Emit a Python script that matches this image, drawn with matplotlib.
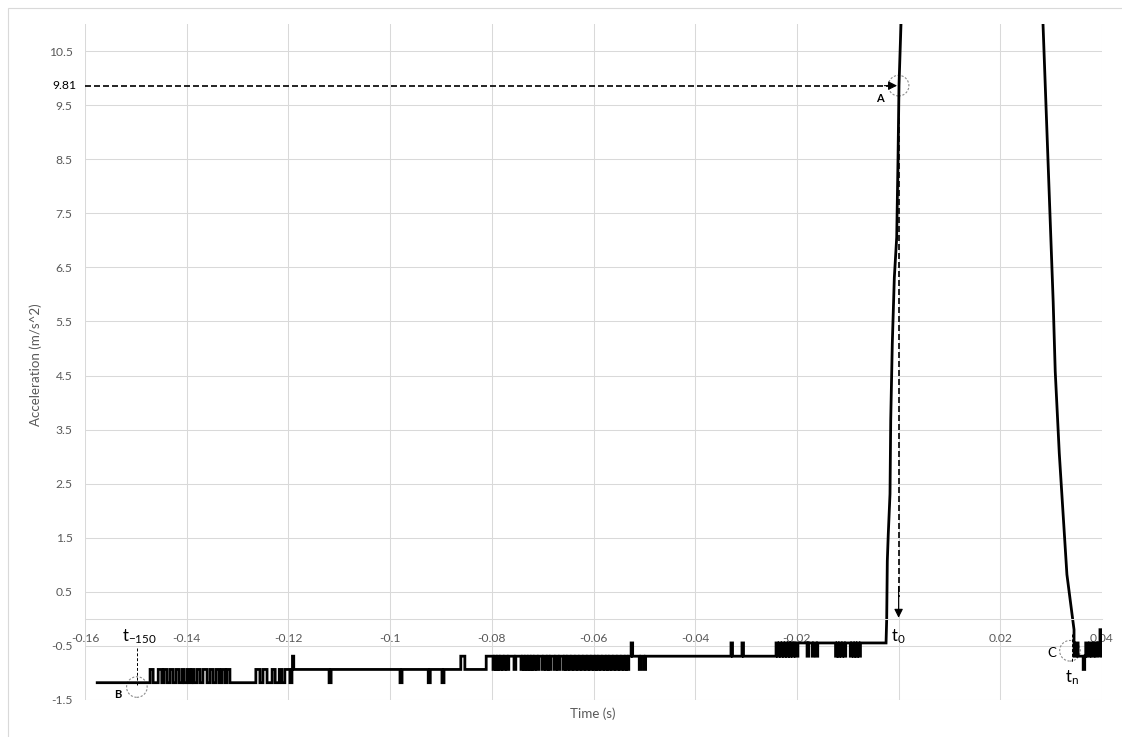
import numpy as np
import matplotlib.pyplot as plt
from matplotlib.patches import Circle, Rectangle
from matplotlib.transforms import ScaledTranslation

plt.rcParams['font.family'] = ['Lato', 'DejaVu Sans']
plt.rcParams['mathtext.fontset'] = 'custom'
plt.rcParams['mathtext.rm'] = 'Lato'
plt.rcParams['mathtext.it'] = 'Lato'
plt.rcParams['mathtext.default'] = 'regular'
plt.rcParams['axes.unicode_minus'] = False

# ---- data (time in ms, acceleration in m/s^2) ----
# quantised sensor levels
lv0, lv1, lv2, lv3, lv4 = -1.18, -0.935, -0.69, -0.445, -0.2

# segment 1: base lv0, pulses up to lv1
s1_start, s1_end = -157.6, -119.3
s1_on = [-147.2, -145.6, -144.5, -143.3, -142.1, -140.9, -139.9, -139.0, -138.0,
         -136.8, -135.4, -134.2, -133.1, -132.1, -126.4, -125.0, -123.2, -121.8, -120.7]
s1_off = [-146.6, -144.9, -143.9, -142.7, -141.5, -140.5, -139.4, -138.6, -137.4,
          -136.0, -134.8, -133.6, -132.5, -131.5, -125.6, -124.2, -122.6, -121.3, -119.7]

# segment 2: base lv1
s2_end = -81.1
s2_up = [-119.2, -86.1]          # up to lv2
s2_up_w = [0.25, 0.8]
s2_dn = [-112.0, -98.05, -92.5, -89.8]   # down to lv0

# segment 3: base lv2
s3_end = -19.8
s3_dn = [-79.76, -79.17, -78.58, -77.80, -77.01, -75.63, -74.26, -73.67, -73.08,
         -72.49, -71.90, -71.11, -70.13, -69.34, -68.75, -67.77, -66.98, -66.00,
         -65.41, -64.62, -63.83, -63.05, -62.26, -61.47, -60.69, -59.90, -59.31,
         -58.52, -57.74, -57.15, -56.36, -55.57, -54.79, -54.00, -53.41, -51.0, -50.1]
s3_up = [-52.6, -32.96, -30.8, -24.1, -23.5, -22.9, -22.3, -21.7, -21.2, -20.6]

# segment 4: base lv3, dips to lv2
s4_end = -2.47
s4_dn = [-18.0, -17.0, -16.2, -12.4, -11.9, -11.3, -10.7, -9.5, -8.9, -8.4, -7.8]

# impact peak (rise and fall)
rise_t = [-2.47, -2.34, -2.22, -2.03, -1.69, -1.55, -1.24, -0.84, -0.37, -0.12, 0.08, 0.47, 1.0]
rise_v = [lv3, 0.0, 1.07, 1.57, 2.31, 3.67, 5.09, 6.31, 7.06, 8.48, 9.87, 11.0, 13.3]
fall_t = [27.5, 28.4, 29.4, 30.4, 30.8, 31.6, 33.1, 34.1, 34.5]
fall_v = [13.3, 11.0, 8.48, 5.86, 4.58, 3.06, 0.82, 0.1, -0.2]

# tail: base lv2
s5_end = 40.0
s5_up = [34.9, 36.8, 37.6, 38.4, 39.2]    # to lv3
s5_dn = [36.3]                            # to lv1
s5_spike = [39.6]                         # to lv4

xticks = [-0.16, -0.14, -0.12, -0.1, -0.08, -0.06, -0.04, -0.02, 0, 0.02, 0.04]
xlabels = ['-0.16', '-0.14', '-0.12', '-0.1', '-0.08', '-0.06', '-0.04', '-0.02', '', '0.02', '0.04']
yticks = [-1.5, -0.5, 0.5, 1.5, 2.5, 3.5, 4.5, 5.5, 6.5, 7.5, 8.5, 9.5, 10.5]
ylabels = ['-1.5', '-0.5', '0.5', '1.5', '2.5', '3.5', '4.5', '5.5', '6.5', '7.5', '8.5', '9.5', '10.5']
g_val = 9.81
g_line = 9.86


def pulses(base, starts, ends, level):
    ev = []
    for a, b in zip(starts, ends):
        ev += [(a, level), (b, base)]
    return ev


def events_to_xy(t_start, base, events, t_end):
    events = sorted(events)
    xs, ys = [t_start], [base]
    cur = base
    for t, v in events:
        xs += [t, t]
        ys += [cur, v]
        cur = v
    xs.append(t_end)
    ys.append(cur)
    return xs, ys


ev = pulses(lv0, s1_on, s1_off, lv1)
x1, y1 = events_to_xy(s1_start, lv0, ev, s1_end)

ev = pulses(lv1, s2_up, [a + w for a, w in zip(s2_up, s2_up_w)], lv2)
ev += pulses(lv1, s2_dn, [a + 0.4 for a in s2_dn], lv0)
x2, y2 = events_to_xy(s1_end, lv1, ev, s2_end)

ev = pulses(lv2, s3_dn, [a + 0.35 for a in s3_dn], lv1)
ev += pulses(lv2, s3_up, [a + 0.3 for a in s3_up], lv3)
x3, y3 = events_to_xy(s2_end, lv2, ev, s3_end)

ev = pulses(lv3, s4_dn, [a + 0.3 for a in s4_dn], lv2)
x4, y4 = events_to_xy(s3_end, lv3, ev, s4_end)

ev = pulses(lv2, s5_up, [a + 0.4 for a in s5_up], lv3)
ev += pulses(lv2, s5_dn, [a + 0.3 for a in s5_dn], lv1)
ev += pulses(lv2, s5_spike, [a + 0.2 for a in s5_spike], lv4)
x5, y5 = events_to_xy(fall_t[-1], lv2, ev, s5_end)

t = np.array(x1 + x2 + x3 + x4 + rise_t + fall_t + x5) / 1000.0
a = np.array(y1 + y2 + y3 + y4 + rise_v + fall_v + y5)

# ---- figure ----
fig = plt.figure(figsize=(11.22, 7.37), dpi=100)
fig.patches.append(Rectangle((8 / 1122, -0.5), 2, 1.5 - 8 / 737, transform=fig.transFigure,
                             fill=False, edgecolor='#d9d9d9', lw=0.8))
ax = fig.add_axes([85 / 1122, 1 - 700 / 737, 1017 / 1122, 676 / 737])
ax.set_xlim(-0.16, 0.04)
ax.set_ylim(-1.5, 11.0)

grid_c = '#d9d9d9'
txt_c = '#595959'
for s in ['top', 'right', 'left']:
    ax.spines[s].set_visible(False)
ax.spines['bottom'].set_position(('data', 0))
ax.spines['bottom'].set_color(grid_c)
ax.spines['bottom'].set_linewidth(0.75)
ax.set_xticks(xticks)
ax.set_xticklabels(xlabels)
ax.set_yticks(yticks)
ax.set_yticklabels(ylabels)
ax.tick_params(axis='both', length=0, labelsize=8.7, labelcolor=txt_c)
ax.tick_params(axis='x', pad=10)
ax.tick_params(axis='y', pad=9)
ax.grid(True, color=grid_c, lw=0.75)
ax.set_axisbelow(True)

ax.plot(t, a, color='black', lw=2.0, solid_joinstyle='miter')

# 9.81 line and arrows
dash = (0, (3.6, 1.8))
ax.plot([-0.16, -0.0014], [g_line, g_line], color='black', lw=1.2, ls=dash, clip_on=False)
ax.annotate('', xy=(-0.0003, g_line), xytext=(-0.0028, g_line),
            arrowprops=dict(arrowstyle='-|>', color='black', lw=0.8, mutation_scale=13,
                            shrinkA=0, shrinkB=0))
ax.annotate(f'{g_val:.2f}', xy=(0, g_line), xycoords=('axes fraction', 'data'),
            xytext=(-6, 0), textcoords='offset points', ha='right', va='center',
            fontsize=8.7, color='black')
ax.plot([0, 0], [9.6, 0.4], color='black', lw=1.2, ls=dash)
ax.annotate('', xy=(0, 0.02), xytext=(0, 0.6),
            arrowprops=dict(arrowstyle='-|>', color='black', lw=0.8, mutation_scale=13,
                            shrinkA=0, shrinkB=0))


def ring(x, y):
    c = Circle((0, 0), radius=0.103, transform=fig.dpi_scale_trans +
               ScaledTranslation(x, y, ax.transData), fill=False,
               edgecolor='#8c8c8c', lw=0.8, ls=(0, (2, 1.5)))
    ax.add_artist(c)


ring(0.0, g_line)
ring(-0.1498, -1.26)
ring(0.0337, -0.59)

ax.plot([-0.1498, -0.1498], [-0.54, -1.22], color='black', lw=0.7, ls=(0, (3, 2)))
ax.plot([0.0341, 0.0341], [-0.28, -0.81], color='black', lw=0.7, ls=(0, (3, 2)))

ax.text(-0.00366, 9.63, 'A', fontsize=8, fontweight='bold', ha='center', va='center')
ax.text(-0.1535, -1.39, 'B', fontsize=8, fontweight='bold', ha='center', va='center')
ax.text(0.0301, -0.63, 'C', fontsize=9.5, ha='center', va='center')
ax.text(-0.1527, -0.41, '$t_{-150}$', fontsize=12, ha='left', va='baseline')
ax.text(-0.0015, -0.41, '$t_0$', fontsize=12, ha='left', va='baseline')
ax.text(0.0327, -1.17, '$t_n$', fontsize=12, ha='left', va='baseline')

fig.text(36 / 1122, 1 - 365 / 737, 'Acceleration (m/s^2)', rotation=90, ha='center',
         va='center', fontsize=9.6, color=txt_c)
fig.text(593 / 1122, 1 - 714 / 737, 'Time (s)', ha='center', va='center',
         fontsize=9.6, color=txt_c)

fig.savefig('out.png', dpi=100, facecolor='white')
